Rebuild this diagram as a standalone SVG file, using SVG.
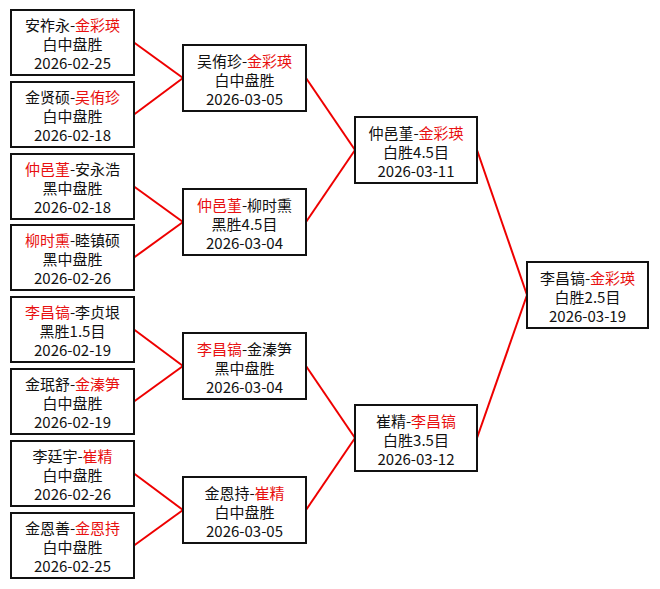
<svg xmlns="http://www.w3.org/2000/svg" width="660" height="589" viewBox="0 0 660 589">
<style>
.box{fill:#fff;stroke:#111;stroke-width:2}
.t{font-family:"Noto Sans CJK SC","Noto Sans",sans-serif;font-size:15px;fill:#111;text-anchor:middle}
.w{fill:#e81010}
.conn line{stroke:#e00;stroke-width:2}
</style>
<rect width="660" height="589" fill="#fff"/>
<g class="conn">
<line x1="134" y1="42.5" x2="183" y2="78"/>
<line x1="134" y1="114.5" x2="183" y2="78"/>
<line x1="134" y1="186.5" x2="183" y2="222"/>
<line x1="134" y1="257.5" x2="183" y2="222"/>
<line x1="134" y1="329.5" x2="183" y2="366"/>
<line x1="134" y1="401.5" x2="183" y2="366"/>
<line x1="134" y1="473.5" x2="183" y2="510"/>
<line x1="134" y1="545.5" x2="183" y2="510"/>
<line x1="306" y1="78" x2="355" y2="150"/>
<line x1="306" y1="222" x2="355" y2="150"/>
<line x1="306" y1="366" x2="355" y2="438"/>
<line x1="306" y1="510" x2="355" y2="438"/>
<line x1="477" y1="150" x2="527" y2="295"/>
<line x1="477" y1="438" x2="527" y2="295"/>
</g>
<g id="r1-1"><rect class="box" x="11" y="10" width="123" height="65"/>
<text class="t"><tspan x="72.5" y="31">安祚永-<tspan class="w">金彩瑛</tspan></tspan><tspan x="72.5" y="50">白中盘胜</tspan><tspan x="72.5" y="69">2026-02-25</tspan></text></g>
<g id="r1-2"><rect class="box" x="11" y="82" width="123" height="65"/>
<text class="t"><tspan x="72.5" y="103">金贤硕-<tspan class="w">吴侑珍</tspan></tspan><tspan x="72.5" y="122">白中盘胜</tspan><tspan x="72.5" y="141">2026-02-18</tspan></text></g>
<g id="r1-3"><rect class="box" x="11" y="154" width="123" height="65"/>
<text class="t"><tspan x="72.5" y="175"><tspan class="w">仲邑堇</tspan>-安永浩</tspan><tspan x="72.5" y="194">黑中盘胜</tspan><tspan x="72.5" y="213">2026-02-18</tspan></text></g>
<g id="r1-4"><rect class="box" x="11" y="225" width="123" height="65"/>
<text class="t"><tspan x="72.5" y="246"><tspan class="w">柳时熏</tspan>-睦镇硕</tspan><tspan x="72.5" y="265">黑中盘胜</tspan><tspan x="72.5" y="284">2026-02-26</tspan></text></g>
<g id="r1-5"><rect class="box" x="11" y="297" width="123" height="65"/>
<text class="t"><tspan x="72.5" y="318"><tspan class="w">李昌镐</tspan>-李贞垠</tspan><tspan x="72.5" y="337">黑胜1.5目</tspan><tspan x="72.5" y="356">2026-02-19</tspan></text></g>
<g id="r1-6"><rect class="box" x="11" y="369" width="123" height="65"/>
<text class="t"><tspan x="72.5" y="390">金珉舒-<tspan class="w">金溱笋</tspan></tspan><tspan x="72.5" y="409">白中盘胜</tspan><tspan x="72.5" y="428">2026-02-19</tspan></text></g>
<g id="r1-7"><rect class="box" x="11" y="441" width="123" height="65"/>
<text class="t"><tspan x="72.5" y="462">李廷宇-<tspan class="w">崔精</tspan></tspan><tspan x="72.5" y="481">白中盘胜</tspan><tspan x="72.5" y="500">2026-02-26</tspan></text></g>
<g id="r1-8"><rect class="box" x="11" y="513" width="123" height="65"/>
<text class="t"><tspan x="72.5" y="534">金恩善-<tspan class="w">金恩持</tspan></tspan><tspan x="72.5" y="553">白中盘胜</tspan><tspan x="72.5" y="572">2026-02-25</tspan></text></g>
<g id="r2-1"><rect class="box" x="183" y="45" width="123" height="66"/>
<text class="t"><tspan x="244.5" y="67">吴侑珍-<tspan class="w">金彩瑛</tspan></tspan><tspan x="244.5" y="86">白中盘胜</tspan><tspan x="244.5" y="105">2026-03-05</tspan></text></g>
<g id="r2-2"><rect class="box" x="183" y="189" width="123" height="66"/>
<text class="t"><tspan x="244.5" y="211"><tspan class="w">仲邑堇</tspan>-柳时熏</tspan><tspan x="244.5" y="230">黑胜4.5目</tspan><tspan x="244.5" y="249">2026-03-04</tspan></text></g>
<g id="r2-3"><rect class="box" x="183" y="333" width="123" height="66"/>
<text class="t"><tspan x="244.5" y="355"><tspan class="w">李昌镐</tspan>-金溱笋</tspan><tspan x="244.5" y="374">黑中盘胜</tspan><tspan x="244.5" y="393">2026-03-04</tspan></text></g>
<g id="r2-4"><rect class="box" x="183" y="477" width="123" height="66"/>
<text class="t"><tspan x="244.5" y="499">金恩持-<tspan class="w">崔精</tspan></tspan><tspan x="244.5" y="518">白中盘胜</tspan><tspan x="244.5" y="537">2026-03-05</tspan></text></g>
<g id="r3-1"><rect class="box" x="355" y="117" width="122" height="66"/>
<text class="t"><tspan x="416" y="139">仲邑堇-<tspan class="w">金彩瑛</tspan></tspan><tspan x="416" y="158">白胜4.5目</tspan><tspan x="416" y="177">2026-03-11</tspan></text></g>
<g id="r3-2"><rect class="box" x="355" y="405" width="122" height="66"/>
<text class="t"><tspan x="416" y="427">崔精-<tspan class="w">李昌镐</tspan></tspan><tspan x="416" y="446">白胜3.5目</tspan><tspan x="416" y="465">2026-03-12</tspan></text></g>
<g id="final"><rect class="box" x="527" y="262" width="121" height="66"/>
<text class="t"><tspan x="587.5" y="284">李昌镐-<tspan class="w">金彩瑛</tspan></tspan><tspan x="587.5" y="303">白胜2.5目</tspan><tspan x="587.5" y="322">2026-03-19</tspan></text></g>
</svg>
